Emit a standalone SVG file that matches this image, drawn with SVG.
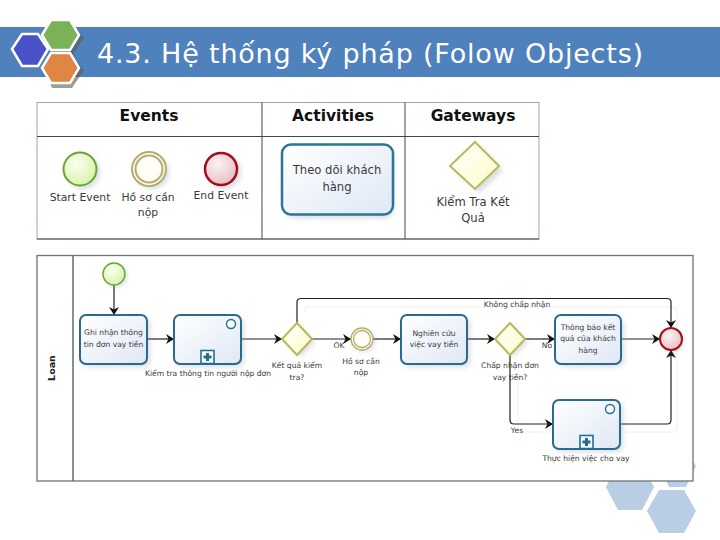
<svg xmlns="http://www.w3.org/2000/svg" width="720" height="540" viewBox="0 0 720 540">
<defs>
<linearGradient id="gTask" x1="0" y1="0" x2="1" y2="1"><stop offset="0" stop-color="#ffffff"/><stop offset="1" stop-color="#dfe8f6"/></linearGradient>
<radialGradient id="gStart" cx=".4" cy=".35" r=".7"><stop offset="0" stop-color="#fbfff0"/><stop offset="1" stop-color="#d6f2a8"/></radialGradient>
<radialGradient id="gEnd" cx=".4" cy=".35" r=".7"><stop offset="0" stop-color="#fbf3f3"/><stop offset="1" stop-color="#e8bcc0"/></radialGradient>
<linearGradient id="gGate" x1="0" y1="0" x2="1" y2="1"><stop offset="0" stop-color="#ffffff"/><stop offset="1" stop-color="#fdfbc8"/></linearGradient>
<filter id="sh" x="-30%" y="-30%" width="170%" height="170%"><feGaussianBlur stdDeviation="2.5"/></filter>
<marker id="arr" markerWidth="9" markerHeight="10" refX="8" refY="5" orient="auto" markerUnits="userSpaceOnUse"><path d="M0,0 L8,5 L0,10 L2.5,5 Z" fill="#111"/></marker>
<g id="plus"><rect x="-6.500" y="-6.500" width="13" height="13" fill="#fff" stroke="#1f6f93" stroke-width="1.600"/><path d="M-1.500,-4H1.500V-1.500H4V1.500H1.500V4H-1.500V1.500H-4V-1.500H-1.500Z" fill="#1f6f93"/></g>
</defs>
<style>
.t{font-family:"DejaVu Sans","Liberation Sans",sans-serif;fill:#3a3a3a;font-size:10.8px;text-anchor:middle}
.s{font-size:7.600px}
.m{font-size:11.600px}
.h{font-family:"DejaVu Sans",sans-serif;font-weight:700;font-size:15.500px;fill:#111;text-anchor:middle}
.task{fill:url(#gTask);stroke:#2b6a8f;stroke-width:2}
.shade{fill:#8a97a5;opacity:.32;filter:url(#sh)}
.gate{fill:url(#gGate);stroke:#b9b95a;stroke-width:2}
.flow{fill:none;stroke:#222;stroke-width:1.200;marker-end:url(#arr)}
.grid{fill:none;stroke:#3c4a50;stroke-width:1}
.hexb{fill:#b9cde5}
</style>

<g id="bg-hexes">
<polygon class="hexb" points="660,466 669,450 686,450 696,466 686,487 669,487"/>
<polygon class="hexb" points="606,487 618,464 642,464 654,487 642,510 618,510"/>
<polygon class="hexb" points="647,511 659,490 684,490 696,511 684,533 659,533"/>
</g>

<g id="header">
<rect x="0" y="27" width="720" height="50" fill="#4f81bd"/>
<polygon points="44,36 52,23 72,23 84,38 72,56 52,56" fill="#5e5e48" opacity=".6"/>
<polygon points="44,70 52,56 72,56 84,70 72,88 52,88" fill="#5e5e48" opacity=".6"/>
<polygon points="12,49 22,34 38,34 48,49 38,66 22,66" fill="#4a52c8" stroke="#fff" stroke-width="2.500"/>
<polygon points="42,35 51,20 70,20 79,35 70,50 51,50" fill="#7cb257" stroke="#fff" stroke-width="2.500"/>
<polygon points="42,68 51,53 70,53 79,68 70,83 51,83" fill="#e08542" stroke="#fff" stroke-width="2.500"/>
<text x="97" y="63" font-family="'DejaVu Sans',sans-serif" font-size="27" letter-spacing=".8" fill="#fff">4.3. Hệ thống ký pháp (Folow Objects)</text>
</g>

<g id="legend">
<rect x="37" y="102.500" width="502" height="136.500" fill="#fff" stroke="#9aa6aa" stroke-width="1"/>
<path class="grid" d="M37,136.500H539M262,102.500V239M405,102.500V239M37,239H539"/>
<text class="h" x="149" y="121">Events</text>
<text class="h" x="333" y="121">Activities</text>
<text class="h" x="473" y="121">Gateways</text>
</g>
<g id="legend-start"><circle class="shade" cx="83" cy="172" r="17"/><circle cx="80" cy="169" r="16.500" fill="url(#gStart)" stroke="#6aa337" stroke-width="2"/><text class="t" x="80" y="201">Start Event</text></g>
<g id="legend-intermediate"><circle class="shade" cx="152" cy="172" r="17"/><circle cx="149" cy="169" r="17" fill="#fffdf5" stroke="#b5ad6e" stroke-width="2"/><circle cx="149" cy="169" r="13.500" fill="none" stroke="#b5ad6e" stroke-width="2"/><text class="t" x="148" y="201">Hồ sơ cần</text><text class="t" x="148" y="216">nộp</text></g>
<g id="legend-end"><circle class="shade" cx="224" cy="172" r="17"/><circle cx="221" cy="169" r="16" fill="url(#gEnd)" stroke="#a0101c" stroke-width="2.500"/><text class="t" x="221" y="199">End Event</text></g>
<g id="legend-task"><rect class="shade" x="285" y="148" width="109" height="70" rx="9"/><rect x="282" y="144.500" width="111" height="70" rx="9" fill="url(#gTask)" stroke="#2b7596" stroke-width="2.500"/><text class="t m" x="337" y="174">Theo dõi khách</text><text class="t m" x="337" y="191">hàng</text></g>
<g id="legend-gateway"><polygon class="shade" points="479,146 503,170 479,193 454,170"/><polygon class="gate" points="475,142 499,166 475,189 450,166"/><text class="t m" x="473" y="206">Kiểm Tra Kết</text><text class="t m" x="473" y="222">Quả</text></g>

<g id="pool">
<rect x="37" y="255.500" width="656" height="225.500" fill="#fff" stroke="#6f7378" stroke-width="1.300"/>
<line x1="73" y1="255.500" x2="73" y2="481" stroke="#6f7378" stroke-width="1.600"/>
<text x="55" y="368" transform="rotate(-90 55 368)" font-family="'DejaVu Sans',sans-serif" font-weight="700" font-size="9.500" fill="#222" text-anchor="middle">Loan</text>
<path d="M305,312V309Q305,307 307,307H674Q677,307 677,310V428Q677,432 674,432H625M550,432H518V370" fill="none" stroke="#eef0f0" stroke-width="1"/>
</g>

<g id="connectors">
<path class="flow" d="M114,285V315"/>
<path class="flow" d="M147,339H174"/>
<path class="flow" d="M241,339H282"/>
<path class="flow" d="M312,339H351"/>
<path class="flow" d="M373,339H401"/>
<path class="flow" d="M467,339H495"/>
<path class="flow" d="M525,339H555"/>
<path class="flow" d="M621,339H660"/>
<path class="flow" d="M297,324V302Q297,298.500 301,298.500H667Q671,298.500 671,302V328"/>
<path class="flow" d="M510,354V420Q510,424 514,424H553"/>
<path class="flow" d="M620,424H667Q671,424 671,420V350"/>
<text class="t s" x="339" y="348">OK</text>
<text class="t s" x="547" y="348">No</text>
<text class="t s" x="517" y="307">Không chấp nhận</text>
<text class="t s" x="517" y="433">Yes</text>
</g>

<g id="start"><circle class="shade" cx="116" cy="276" r="11"/><circle cx="114" cy="274" r="11" fill="url(#gStart)" stroke="#6aa337" stroke-width="1.400"/></g>
<g id="task-ghinhan"><rect class="shade" x="83" y="318" width="67" height="49" rx="6"/><rect class="task" x="80" y="315" width="67" height="49" rx="6"/><text class="t s" x="113.500" y="335">Ghi nhận thông</text><text class="t s" x="113.500" y="347">tin đơn vay tiền</text></g>
<g id="task-kiemtra"><rect class="shade" x="177" y="318" width="67" height="49" rx="6"/><rect class="task" x="174" y="315" width="67" height="49" rx="6"/><circle cx="231" cy="324" r="4.500" fill="#fff" stroke="#1f6f93" stroke-width="1.400"/><use href="#plus" x="207.500" y="357"/><text class="t s" x="208" y="376">Kiểm tra thông tin người nộp đơn</text></g>
<g id="gw-ketqua"><polygon class="shade" points="300,327 315,342 300,357 285,342"/><polygon class="gate" points="297,323 312,339 297,355 282,339"/><text class="t s" x="297" y="368">Kết quả kiểm</text><text class="t s" x="297" y="380">tra?</text></g>
<g id="ev-hoso"><circle class="shade" cx="364" cy="341" r="11"/><circle cx="362" cy="339" r="11" fill="#fffdf5" stroke="#b5ad6e" stroke-width="1.300"/><circle cx="362" cy="339" r="8.500" fill="none" stroke="#b5ad6e" stroke-width="1.300"/><text class="t s" x="361" y="364">Hồ sơ cần</text><text class="t s" x="361" y="375">nộp</text></g>
<g id="task-nghiencuu"><rect class="shade" x="404" y="318" width="66" height="49" rx="6"/><rect class="task" x="401" y="315" width="66" height="49" rx="6"/><text class="t s" x="434" y="336">Nghiên cứu</text><text class="t s" x="434" y="347">việc vay tiền</text></g>
<g id="gw-chapnhan"><polygon class="shade" points="513,327 528,342 513,357 498,342"/><polygon class="gate" points="510,323 525,339 510,355 495,339"/><text class="t s" x="510" y="368">Chấp nhận đơn</text><text class="t s" x="510" y="380">vay tiền?</text></g>
<g id="task-thongbao"><rect class="shade" x="558" y="318" width="66" height="49" rx="6"/><rect class="task" x="555" y="315" width="66" height="49" rx="6"/><text class="t s" x="588" y="330">Thông báo kết</text><text class="t s" x="588" y="341">quả của khách</text><text class="t s" x="588" y="353">hàng</text></g>
<g id="end"><circle class="shade" cx="673" cy="341" r="11"/><circle cx="671" cy="339" r="11" fill="url(#gEnd)" stroke="#a0101c" stroke-width="2"/></g>
<g id="task-thuchien"><rect class="shade" x="556" y="403" width="67" height="49" rx="6"/><rect class="task" x="553" y="400" width="67" height="49" rx="6"/><circle cx="610" cy="409" r="4.500" fill="#fff" stroke="#1f6f93" stroke-width="1.400"/><use href="#plus" x="586.500" y="442"/><text class="t s" x="586" y="461">Thực hiện việc cho vay</text></g>
</svg>
